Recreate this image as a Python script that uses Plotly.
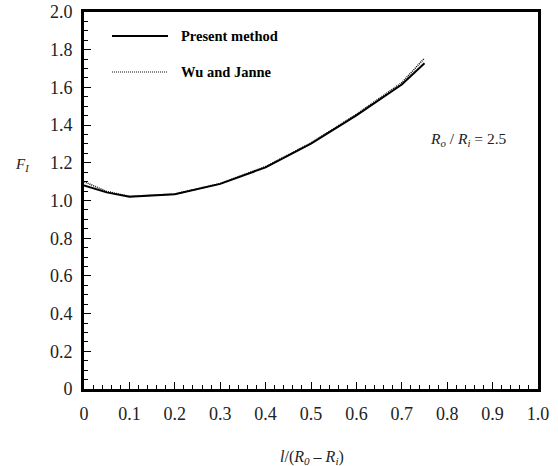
import plotly.graph_objects as go

# Data
x_vals = [0.0, 0.05, 0.1, 0.2, 0.3, 0.4, 0.5, 0.6, 0.7, 0.75]
present_method = [1.08, 1.043, 1.02, 1.033, 1.088, 1.176, 1.302, 1.452, 1.615, 1.728]
wu_janne = [1.10, 1.048, 1.022, 1.034, 1.09, 1.18, 1.305, 1.457, 1.625, 1.755]
x_tick_vals = [0, 0.1, 0.2, 0.3, 0.4, 0.5, 0.6, 0.7, 0.8, 0.9, 1.0]
x_tick_text = ["0", "0.1", "0.2", "0.3", "0.4", "0.5", "0.6", "0.7", "0.8", "0.9", "1.0"]
y_tick_vals = [0, 0.2, 0.4, 0.6, 0.8, 1.0, 1.2, 1.4, 1.6, 1.8, 2.0]
y_tick_text = ["0", "0.2", "0.4", "0.6", "0.8", "1.0", "1.2", "1.4", "1.6", "1.8", "2.0"]

FONT = "Liberation Serif"
TXT = "#222222"

fig = go.Figure()
fig.add_trace(go.Scatter(x=x_vals, y=wu_janne, mode="lines", name="Wu and Janne",
                         line=dict(color="#111111", width=1.6, dash="1px,1px")))
fig.add_trace(go.Scatter(x=x_vals, y=present_method, mode="lines", name="Present method",
                         line=dict(color="black", width=2)))

W, H = 558, 466
L, R, T, B = 84, 20, 12, 77
pw, ph = W - L - R, H - T - B

def px(xp):
    return (xp - L) / pw

def py(yp):
    return 1 - (yp - T) / ph

xaxis = dict(range=[0, 1], tickmode="array", tickvals=x_tick_vals, ticktext=x_tick_text,
             showgrid=False, zeroline=False, showline=True, linecolor="black",
             linewidth=3, mirror=True, ticks="inside", ticklen=7, tickwidth=1,
             tickcolor="black", automargin=False, ticklabelstandoff=6,
             tickfont=dict(family=FONT, size=18, color=TXT),
             minor=dict(dtick=0.02, ticks="inside", ticklen=4, tickcolor="black", tickwidth=1))
yaxis = dict(range=[0, 2], tickmode="array", tickvals=y_tick_vals, ticktext=y_tick_text,
             showgrid=False, zeroline=False, showline=True, linecolor="black",
             linewidth=3, mirror=True, ticks="inside", ticklen=7, tickwidth=1,
             tickcolor="black", automargin=False, ticklabelstandoff=5,
             tickfont=dict(family=FONT, size=18, color=TXT),
             minor=dict(dtick=0.05, ticks="inside", ticklen=4, tickcolor="black", tickwidth=1))

# legend (manual)
shapes = [
    dict(type="line", xref="paper", yref="paper", x0=px(112), x1=px(168), y0=py(36), y1=py(36),
         line=dict(color="black", width=2)),
    dict(type="line", xref="paper", yref="paper", x0=px(112), x1=px(168), y0=py(72), y1=py(72),
         line=dict(color="#111111", width=1.2, dash="1px,1px")),
]
annotations = [
    dict(text="<b>Present method</b>", x=px(179), y=py(36), xref="paper", yref="paper",
         xanchor="left", yanchor="middle", showarrow=False, font=dict(family=FONT, size=14.5, color="black")),
    dict(text="<b>Wu and Janne</b>", x=px(179), y=py(72), xref="paper", yref="paper",
         xanchor="left", yanchor="middle", showarrow=False, font=dict(family=FONT, size=14.5, color="black")),
    dict(text="<i>R<sub>o</sub></i> / <i>R<sub>i</sub></i> = 2.5", x=px(428), y=py(139), xref="paper", yref="paper",
         xanchor="left", yanchor="middle", showarrow=False, font=dict(family=FONT, size=15.5, color=TXT)),
    dict(text="<i>F<sub>I</sub></i>", x=px(13), y=py(165), xref="paper", yref="paper",
         xanchor="left", yanchor="middle", showarrow=False, font=dict(family=FONT, size=15, color=TXT)),
    dict(text="<i>l</i>/(<i>R<sub>0</sub></i> – <i>R<sub>i</sub></i>)", x=px(312), y=py(457), xref="paper", yref="paper",
         xanchor="center", yanchor="middle", showarrow=False, font=dict(family=FONT, size=16, color=TXT)),
]

fig.update_layout(width=W, height=H, margin=dict(l=L, r=R, t=T, b=B, autoexpand=False),
                  template="none",
                  font=dict(family=FONT, size=17, color=TXT),
                  xaxis=xaxis, yaxis=yaxis,
                  paper_bgcolor="white", plot_bgcolor="white", showlegend=False,
                  shapes=shapes, annotations=annotations)

fig.write_html("out.html")
